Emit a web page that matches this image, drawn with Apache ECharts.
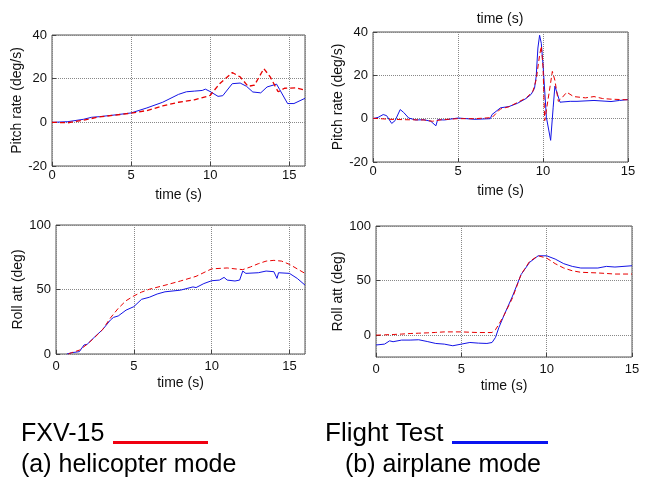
<!DOCTYPE html>
<html>
<head>
<meta charset="utf-8">
<script src="https://cdn.jsdelivr.net/npm/echarts@6/dist/echarts.min.js"></script>
<style>
  html, body { margin: 0; padding: 0; background: #fff; }
  #main { width: 645px; height: 495px; }
</style>
</head>
<body>
<div id="main"></div>
<script>
// (a) helicopter mode - pitch rate
var heliPitchTestTime = [0,1,2,2.5,3,4,5,6,7,8,8.5,9,9.5,9.7,10,10.5,10.8,11.4,11.9,12.3,12.7,13.2,13.6,14.2,14.4,14.9,15.3,16];
var heliPitchTest     = [0,0.3,1.4,2.3,2.6,3.4,4.3,6.6,9.2,12.8,14,14.3,14.6,15.2,14.1,11.9,12.2,17.7,18,16.5,13.9,13.5,16.2,17.5,15,8.6,8.6,11];
var heliPitchSimTime  = [0,1,2,3,4,5,6,7,8,9,10,10.6,11.4,11.9,12.4,12.8,13.4,13.8,14.3,14.7,15.4,16];
var heliPitchSim      = [0,-0.2,1,2.5,3.3,4.2,5.4,7.5,9.2,10.3,12.3,17.7,22.8,20.8,16.5,17,24.6,20.8,14,15.6,15.8,14.8];

// (b) airplane mode - pitch rate
var planePitchTestTime = [0,0.3,0.6,0.8,1.1,1.3,1.6,1.8,2.1,2.5,3,3.4,3.7,3.8,4.2,5,6,6.9,7,7.5,8,8.5,9,9.3,9.5,9.6,9.7,9.8,9.9,10,10.2,10.45,10.6,10.7,11,11.6,12,13,14,14.5,15];
var planePitchTest     = [0,0.6,1.9,1.4,-2.2,-0.9,4.2,2.9,0.3,-0.6,-0.5,-1.2,-3.3,-0.5,-0.6,0.3,-0.3,0,1.9,5,5.6,7.1,9.3,11.2,14,19.5,32.6,38.5,34.8,25,0.6,-10,5.3,15,7.6,8,8,8.4,7.9,8.4,8.8];
var planePitchSimTime  = [0,1,2,3,3.5,4,5,6,7,7.5,8,8.5,9,9.4,9.6,9.8,9.9,10,10.1,10.2,10.35,10.55,10.7,10.9,11.1,11.4,11.8,12.5,13,13.5,14,15];
var planePitchSim      = [0.2,-0.3,-0.5,-0.6,-1.2,-0.5,0,0,0.5,4.5,5.5,7.5,9.5,12.5,18,29.3,33.5,24,-0.9,0,11.5,21.8,17.7,8,9.5,12.2,10.2,9.6,10.2,9.3,9,8.7];

// (a) helicopter mode - roll attitude
var heliRollTestTime = [0.7,1,1.5,1.8,2,2.5,3,3.5,3.7,4,4.5,5,5.5,6,6.5,7,8,8.8,9,9.5,10,10.5,10.8,11,11.5,11.8,12,12.2,13,13.5,14,14.2,14.3,15,15.5,16];
var heliRollTest     = [0,1,1.8,7,7.5,13.4,19,26.4,28.4,29.5,34,36.7,42.4,44,46.5,48.2,49.5,52,51.5,54.6,56.8,57.3,59.4,57.3,56.6,57.3,64.3,62.5,63,64.3,63.8,58.6,63,62.5,58.6,53.4];
var heliRollSimTime  = [0.8,1,1.5,2,2.5,3,3.5,4,4.5,5,5.5,6,7,8,9,10,11,11.5,12,12.5,13,13.5,14,14.5,15,15.5,16];
var heliRollSim      = [0,1,3,7.5,13,19,28,35.4,41.3,45,48,50.2,53.3,56.6,60.2,66,66.7,66,65.4,67.5,70,72,72.6,72,69.5,66,62.5];

// (b) airplane mode - roll attitude
var planeRollTime = [0,0.5,0.8,1,1.5,2,2.5,3,3.5,4,4.5,5,5.5,6,6.5,6.8,7,7.2,7.5,8,8.5,9,9.5,10,10.5,11,11.5,12,13,13.5,14,15];
var planeRollTest = [-9,-8.2,-5.2,-6,-4.5,-4.5,-4.2,-5.8,-7.6,-8.2,-9.7,-8.2,-6.7,-7.3,-7.6,-6.7,-2.1,7,18.2,35.8,55.5,66.7,72.7,72.7,69.7,65.5,63,61.5,61.5,63,62.4,63.6];
var planeRollSim  = [0,0.3,0.5,0.6,1,1.5,1.8,2.1,2.5,3,3,3,2.7,2.4,2.4,2.4,5,10,18.2,34.2,55.5,67.6,72.7,70.6,65.5,61.5,59,57.6,57,56.5,56,56];

var FONT = '"Liberation Sans", Arial, sans-serif';
var RED = '#e80000';
var BLUE = '#1414e6';

function gridLine() {
  return { type: 'dotted', color: '#888', width: 1 };
}

function zip(t, v) {
  return t.map(function (x, i) { return [x, v[i]]; });
}

var grids = [
  { left: 52,  right: 340, top: 35,  bottom: 329 },
  { left: 373, right: 17,  top: 32,  bottom: 333 },
  { left: 56,  right: 340, top: 225, bottom: 141 },
  { left: 376, right: 13,  top: 226, bottom: 138 }
];

function xAxis(idx, max, labelMargin) {
  return {
    type: 'value', gridIndex: idx, min: 0, max: max, interval: 5,
    name: 'time (s)', nameLocation: 'middle', nameGap: 22,
    nameTextStyle: { fontFamily: FONT, fontSize: 14, color: '#111' },
    axisLine: { show: false, onZero: false },
    axisTick: { inside: true, length: 4, lineStyle: { color: '#444' } },
    axisLabel: { showMaxLabel: max === 15, margin: labelMargin, fontFamily: FONT, fontSize: 13, color: '#111' },
    splitLine: { show: true, lineStyle: gridLine() }
  };
}

function yAxis(idx, name, min, max, step, gap) {
  var ax = {
    type: 'value', gridIndex: idx, min: min, max: max,
    name: name, nameLocation: 'middle', nameRotate: 90, nameGap: gap,
    nameTextStyle: { fontFamily: FONT, fontSize: 14, color: '#111' },
    axisLine: { show: false, onZero: false },
    axisTick: { inside: true, length: 4, lineStyle: { color: '#444' } },
    axisLabel: { margin: 5, fontFamily: FONT, fontSize: 13, color: '#111' },
    splitLine: { show: true, lineStyle: gridLine() }
  };
  if (min % step === 0) {
    ax.interval = step;
  } else {
    // range starts off-step: let the scale pick the step so ticks land on 0, 50, 100
    ax.minInterval = step;
    ax.maxInterval = step;
    ax.axisLabel.showMinLabel = false;
  }
  return ax;
}

function simSeries(idx, data, w) {
  return {
    name: 'FXV-15', type: 'line', xAxisIndex: idx, yAxisIndex: idx,
    data: data, showSymbol: false, smooth: false, animation: false,
    lineStyle: { color: RED, width: w || 1, type: [5, 3] }
  };
}

function testSeries(idx, data) {
  return {
    name: 'Flight Test', type: 'line', xAxisIndex: idx, yAxisIndex: idx,
    data: data, showSymbol: false, smooth: false, animation: false,
    lineStyle: { color: BLUE, width: 1 }
  };
}

var option = {
  backgroundColor: '#fff',
  animation: false,
  grid: grids.map(function (g) {
    return Object.assign({ show: true, borderColor: '#555', borderWidth: 1, backgroundColor: 'transparent' }, g);
  }),
  xAxis: [xAxis(0, 16, 3), xAxis(1, 15, 3), xAxis(2, 16, 6), xAxis(3, 15, 6)],
  yAxis: [
    yAxis(0, 'Pitch rate (deg/s)', -20, 40, 20, 27),
    yAxis(1, 'Pitch rate (deg/s)', -20, 40, 20, 28),
    yAxis(2, 'Roll att (deg)', 0, 100, 50, 28),
    yAxis(3, 'Roll att (deg)', -20, 100, 50, 31)
  ],
  series: [
    testSeries(0, zip(heliPitchTestTime, heliPitchTest)),
    simSeries(0, zip(heliPitchSimTime, heliPitchSim), 1.3),
    testSeries(1, zip(planePitchTestTime, planePitchTest)),
    simSeries(1, zip(planePitchSimTime, planePitchSim)),
    testSeries(2, zip(heliRollTestTime, heliRollTest)),
    simSeries(2, zip(heliRollSimTime, heliRollSim)),
    testSeries(3, zip(planeRollTime, planeRollTest)),
    simSeries(3, zip(planeRollTime, planeRollSim))
  ],
  graphic: [
    { type: 'text', x: 500, y: 19, style: { text: 'time (s)', font: '14px ' + FONT, fill: '#111', align: 'center', verticalAlign: 'middle' } },
    { type: 'text', x: 21, y: 434, style: { text: 'FXV-15', font: '25px ' + FONT, fill: '#000', align: 'left', verticalAlign: 'middle' } },
    { type: 'rect', shape: { x: 113, y: 441, width: 95, height: 3 }, style: { fill: '#f00010' } },
    { type: 'text', x: 325, y: 434, style: { text: 'Flight Test', font: '26px ' + FONT, fill: '#000', align: 'left', verticalAlign: 'middle' } },
    { type: 'rect', shape: { x: 452, y: 441, width: 96, height: 3 }, style: { fill: '#0a14f0' } },
    { type: 'text', x: 21, y: 465, style: { text: '(a) helicopter mode', font: '25px ' + FONT, fill: '#000', align: 'left', verticalAlign: 'middle' } },
    { type: 'text', x: 345, y: 465, style: { text: '(b) airplane mode', font: '25px ' + FONT, fill: '#000', align: 'left', verticalAlign: 'middle' } }
  ]
};

var myChart = echarts.init(document.getElementById('main'));
myChart.setOption(option);
window.addEventListener('resize', function () {
  myChart.resize();
});
</script>
</body>
</html>
